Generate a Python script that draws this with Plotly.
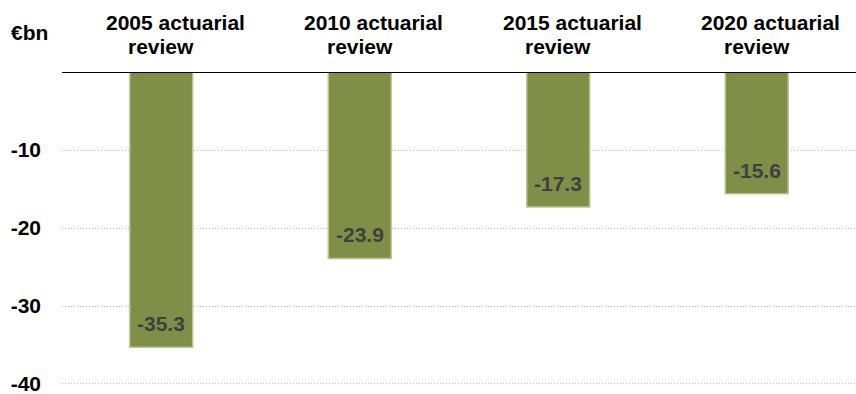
import plotly.graph_objects as go

# Actuarial review results (€bn)
categories = ["2005 actuarial review", "2010 actuarial review",
              "2015 actuarial review", "2020 actuarial review"]
header_line1 = ["2005 actuarial", "2010 actuarial", "2015 actuarial", "2020 actuarial"]
header_line2 = ["review", "review", "review", "review"]
values = [-35.3, -23.9, -17.3, -15.6]
y_ticks = [-10, -20, -30, -40]
unit_label = "€bn"

FONT = "Liberation Sans, Arial, sans-serif"
FS = 21

fig = go.Figure()
fig.add_trace(go.Bar(
    x=categories,
    y=values,
    width=0.317,
    marker=dict(color="#7f8f47", line=dict(color="#b9c592", width=1.5)),
    hoverinfo="skip",
))

# Value labels sitting inside the end of each bar
for cat, v in zip(categories, values):
    fig.add_annotation(x=cat, xref="x", y=v, yref="y", yanchor="bottom", yshift=10,
                       text=f"<b>{v:.1f}</b>", showarrow=False,
                       font=dict(family=FONT, size=FS, color="#404040"))

# Column headers above the zero line
for cat, l1, l2 in zip(categories, header_line1, header_line2):
    fig.add_annotation(x=cat, xref="x", y=1, yref="paper", yanchor="middle",
                       yshift=50, xshift=14, text=f"<b>{l1}</b>", showarrow=False,
                       font=dict(family=FONT, size=FS, color="#000000"))
    fig.add_annotation(x=cat, xref="x", y=1, yref="paper", yanchor="middle",
                       yshift=26, text=f"<b>{l2}</b>", showarrow=False,
                       font=dict(family=FONT, size=FS, color="#000000"))

fig.add_annotation(x=0, xref="paper", xanchor="right", xshift=-12,
                   y=1, yref="paper", yanchor="middle", yshift=40,
                   text=f"<b>{unit_label}</b>", showarrow=False,
                   font=dict(family=FONT, size=FS, color="#000000"))

# Zero baseline
fig.add_shape(type="line", xref="paper", yref="y", x0=0, x1=1, y0=0, y1=0,
              line=dict(color="#000000", width=2), layer="above")

fig.update_layout(
    width=856, height=394,
    margin=dict(l=62, r=0, t=72, b=4),
    paper_bgcolor="white", plot_bgcolor="white",
    showlegend=False,
    xaxis=dict(showticklabels=False, showgrid=False, zeroline=False,
               showline=False, ticks="", range=[-0.5, 3.5]),
    yaxis=dict(range=[-40.77, 0], tickvals=y_ticks,
               ticktext=[f"<b>{t}</b>" for t in y_ticks],
               tickfont=dict(family=FONT, size=FS, color="#000000"),
               ticklabeloverflow="allow",
               showgrid=True, gridcolor="#bdbdbd", griddash="1px,2px", gridwidth=1,
               zeroline=False, showline=False, ticks="", ticklabelstandoff=20),
)

fig.write_html("out.html")
